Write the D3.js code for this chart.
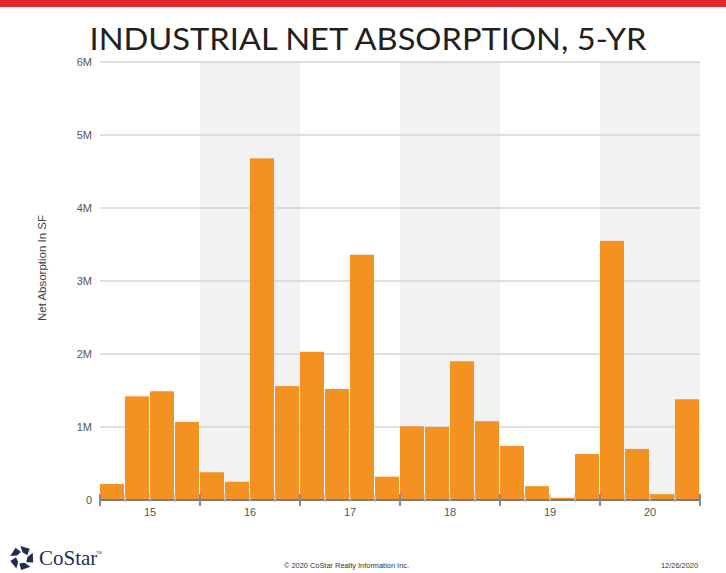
<!DOCTYPE html>
<html>
<head>
<meta charset="utf-8">
<script src="https://cdn.jsdelivr.net/npm/d3@7/dist/d3.min.js"></script>
<style>
  body { margin: 0; background: #fff; }
  svg { display: block; }
</style>
</head>
<body>
<svg id="chart" width="726" height="573"></svg>
<script>
// Quarterly industrial net absorption, 2015–2020 (square feet)
const years = ["15", "16", "17", "18", "19", "20"];
const quarters = [
  "2015 Q1", "2015 Q2", "2015 Q3", "2015 Q4",
  "2016 Q1", "2016 Q2", "2016 Q3", "2016 Q4",
  "2017 Q1", "2017 Q2", "2017 Q3", "2017 Q4",
  "2018 Q1", "2018 Q2", "2018 Q3", "2018 Q4",
  "2019 Q1", "2019 Q2", "2019 Q3", "2019 Q4",
  "2020 Q1", "2020 Q2", "2020 Q3", "2020 Q4"
];
const absorption = [
  220000, 1420000, 1490000, 1070000,
  380000, 250000, 4680000, 1560000,
  2030000, 1520000, 3360000, 320000,
  1010000, 1000000, 1900000, 1080000,
  740000, 190000, 30000, 630000,
  3550000, 700000, 80000, 1380000
];
const yTicks = [0, 1000000, 2000000, 3000000, 4000000, 5000000, 6000000];
const yTickLabels = ["0", "1M", "2M", "3M", "4M", "5M", "6M"];
const shadedYears = ["16", "18", "20"];

const svg = d3.select("#chart");
const plotLeft = 100, plotRight = 700, plotTop = 62, plotBottom = 500;

const x = d3.scaleBand().domain(quarters).range([plotLeft, plotRight]);
const xYear = d3.scaleBand().domain(years).range([plotLeft, plotRight]);
const y = d3.scaleLinear().domain([0, 6000000]).range([plotBottom, plotTop]);

// top accent strip
svg.append("rect").attr("x", 0).attr("y", 0).attr("width", 726).attr("height", 7)
  .attr("fill", "#e3262d");

// title
svg.append("text")
  .attr("x", 368).attr("y", 50)
  .attr("text-anchor", "middle")
  .attr("font-family", "Lato, 'Open Sans', sans-serif")
  .attr("font-size", 30)
  .attr("textLength", 557)
  .attr("lengthAdjust", "spacingAndGlyphs")
  .attr("fill", "#231f20")
  .text("INDUSTRIAL NET ABSORPTION, 5-YR");

// alternating year bands
svg.append("g").selectAll("rect")
  .data(shadedYears)
  .join("rect")
  .attr("x", d => xYear(d))
  .attr("y", plotTop)
  .attr("width", xYear.bandwidth())
  .attr("height", plotBottom - plotTop)
  .attr("fill", "#f2f2f2");

// horizontal gridlines
svg.append("g").selectAll("line")
  .data(yTicks.filter(d => d > 0))
  .join("line")
  .attr("x1", plotLeft).attr("x2", plotRight)
  .attr("y1", d => y(d)).attr("y2", d => y(d))
  .attr("stroke", "#d4d4d4")
  .attr("stroke-width", 1.5);

// y axis labels
const yAxis = svg.append("g")
  .attr("transform", `translate(${plotLeft},0)`)
  .call(d3.axisLeft(y).tickValues(yTicks)
    .tickFormat((d, i) => yTickLabels[i])
    .tickSize(0).tickPadding(8));
yAxis.select(".domain").remove();
yAxis.selectAll("text")
  .attr("font-family", "Liberation Sans, Arial, sans-serif")
  .attr("font-size", 11)
  .attr("fill", "#555");

// bars
svg.append("g").selectAll("rect")
  .data(quarters)
  .join("rect")
  .attr("x", d => x(d))
  .attr("y", (d, i) => y(absorption[i]))
  .attr("width", x.bandwidth() - 1)
  .attr("height", (d, i) => plotBottom - y(absorption[i]))
  .attr("fill", "#f39121");

// baseline
svg.append("line")
  .attr("x1", plotLeft).attr("x2", plotRight)
  .attr("y1", plotBottom).attr("y2", plotBottom)
  .attr("stroke", "#7a7a7a").attr("stroke-width", 2);

// quarter ticks
svg.append("g").selectAll("line")
  .data(quarters.slice(1))
  .join("line")
  .attr("x1", d => x(d)).attr("x2", d => x(d))
  .attr("y1", plotBottom - 6).attr("y2", plotBottom + 2)
  .attr("stroke", "#bbbbbb").attr("stroke-width", 1.5);

// year ticks
const yearEdges = years.map(d => xYear(d)).concat([plotRight]);
svg.append("g").selectAll("line")
  .data(yearEdges)
  .join("line")
  .attr("x1", d => d).attr("x2", d => d)
  .attr("y1", plotBottom - 6).attr("y2", plotBottom + 6)
  .attr("stroke", "#8a8a8a").attr("stroke-width", 2);

// year labels
const xAxis = svg.append("g")
  .attr("transform", `translate(0,${plotBottom})`)
  .call(d3.axisBottom(xYear).tickSize(0).tickPadding(8));
xAxis.select(".domain").remove();
xAxis.selectAll("text")
  .attr("font-family", "Liberation Sans, Arial, sans-serif")
  .attr("font-size", 11)
  .attr("fill", "#555");

// y axis title
svg.append("text")
  .attr("transform", `translate(46,${(plotTop + plotBottom) / 2 - 13}) rotate(-90)`)
  .attr("text-anchor", "middle")
  .attr("font-family", "Liberation Sans, Arial, sans-serif")
  .attr("font-size", 11.5)
  .attr("fill", "#444")
  .text("Net Absorption In SF");

// footer: logo mark
const logo = svg.append("g").attr("transform", "translate(22,558)");
const pt = (r, a) => [r * Math.cos(a * Math.PI / 180), r * Math.sin(a * Math.PI / 180)];
for (let i = 0; i < 5; i++) {
  const a = -90 + 72 * i;
  const poly = [pt(12, a - 8), pt(12, a + 40), pt(6, a + 62), pt(5.5, a + 8)];
  logo.append("polygon")
    .attr("points", poly.map(p => p.join(",")).join(" "))
    .attr("fill", "#1f2d55");
}
svg.append("text")
  .attr("x", 39).attr("y", 565)
  .attr("font-family", "Liberation Serif, 'Times New Roman', serif")
  .attr("font-size", 21)
  .attr("fill", "#1f2d55")
  .text("CoStar");
svg.append("text")
  .attr("x", 96).attr("y", 554)
  .attr("font-family", "Liberation Sans, Arial, sans-serif")
  .attr("font-size", 4)
  .attr("fill", "#1f2d55")
  .text("TM");

// footer text
svg.append("text")
  .attr("x", 284).attr("y", 568)
  .attr("font-family", "Liberation Sans, Arial, sans-serif")
  .attr("font-size", 7.4)
  .attr("fill", "#333")
  .text("© 2020 CoStar Realty Information Inc.");
svg.append("text")
  .attr("x", 661).attr("y", 568)
  .attr("font-family", "Liberation Sans, Arial, sans-serif")
  .attr("font-size", 7.4)
  .attr("fill", "#333")
  .text("12/26/2020");
</script>
</body>
</html>
